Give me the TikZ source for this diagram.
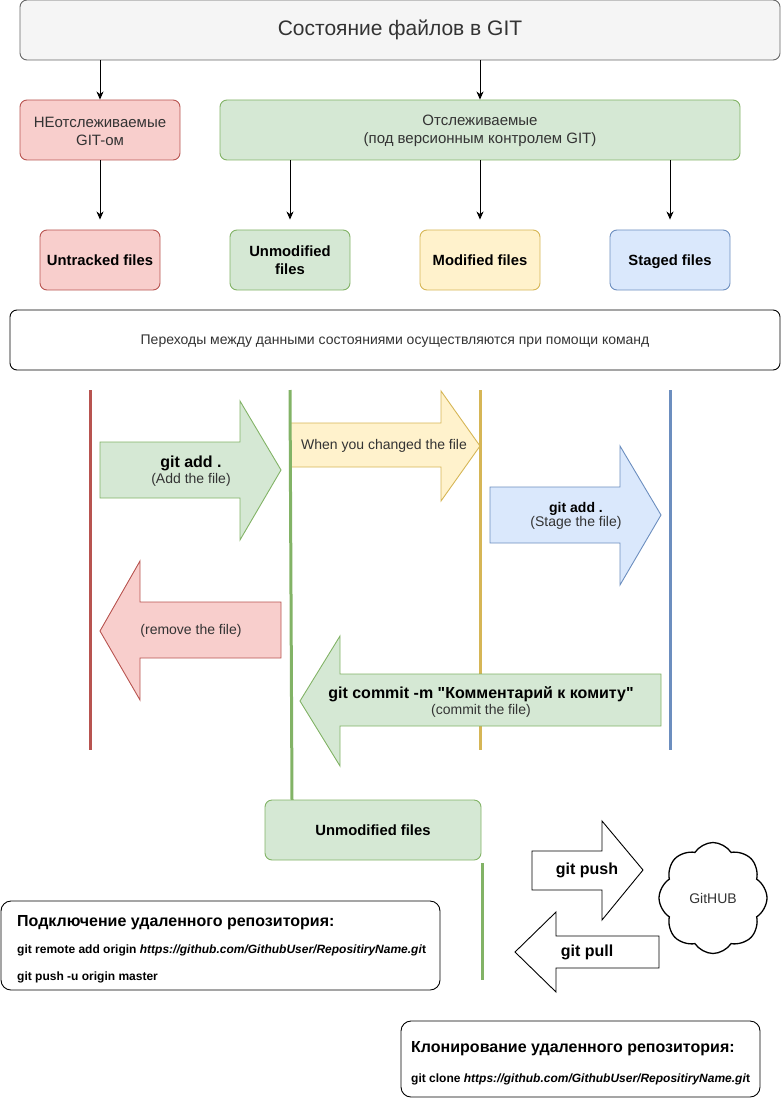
\documentclass[tikz,border=0pt]{standalone}
\usepackage{fontspec}
\setmainfont{Liberation Sans}
\usetikzlibrary{arrows.meta,calc,shapes.symbols}
\definecolor{txt}{HTML}{333333}
\definecolor{titlef}{HTML}{F5F5F5}
\definecolor{titled}{HTML}{666666}
\definecolor{redf}{HTML}{F8CECC}
\definecolor{redd}{HTML}{B85450}
\definecolor{greenf}{HTML}{D5E8D4}
\definecolor{greend}{HTML}{82B366}
\definecolor{yelf}{HTML}{FFF2CC}
\definecolor{yeld}{HTML}{D6B656}
\definecolor{bluef}{HTML}{DAE8FC}
\definecolor{blued}{HTML}{6C8EBF}
\newcommand{\fsz}[2]{\fontsize{#1}{#2}\selectfont}
\newcommand{\dq}{\XeTeXglyph\XeTeXcharglyph"22\relax}
\tikzset{
  rbox/.style={rounded corners=7pt, draw, line width=0.9pt, inner sep=0pt, align=center},
  statebox/.style={rbox, minimum width=120pt, minimum height=60pt, font=\fsz{14.8}{17.5}\bfseries},
  conn/.style={line width=0.9pt, -{Stealth[length=8pt,width=7pt,inset=2.5pt]}},
  vline/.style={line width=3pt},
  barrow/.style={line width=0.9pt, line join=miter},
  infobox/.style={rounded corners=10pt, draw=black, fill=white, line width=0.9pt},
}
\begin{document}
\begin{tikzpicture}[x=1pt,y=-1pt]
\useasboundingbox (0,0) rectangle (781,1099);

% top
\node[rbox, fill=titlef, draw=titled, minimum width=760pt, minimum height=60pt, text=txt, font=\fsz{21}{25}] (title) at (400,30) {Состояние файлов в GIT};
\node[rbox, fill=redf, draw=redd, minimum width=160pt, minimum height=60pt, text=txt, font=\fsz{15}{18}] (untrcat) at (100,130) {\vphantom{Ё}НЕотслеживаемые\\GIT-ом};
\node[rbox, fill=greenf, draw=greend, minimum width=520pt, minimum height=60pt, text=txt, font=\fsz{15}{18}] (trcat) at (480,130) {\vphantom{Ё}Отслеживаемые\\(под версионным контролем GIT)};

\node[statebox, fill=redf, draw=redd, text depth=0pt] (untr) at (100,260) {Untracked files};
\node[statebox, fill=greenf, draw=greend] (unmod) at (290,260) {Unmodified\\files};
\node[statebox, fill=yelf, draw=yeld, text depth=0pt] (modf) at (480,260) {Modified files};
\node[statebox, fill=bluef, draw=blued, text depth=0pt] (stag) at (670,260) {Staged files};

\draw[conn] (title.south -| untrcat.north) -- (untrcat.north);
\draw[conn] (title.south -| trcat.north) -- (trcat.north);
\draw[conn] (untrcat.south) -- ([yshift=10pt]untr.north);
\draw[conn] (trcat.south -| unmod.north) -- ([yshift=10pt]unmod.north);
\draw[conn] (trcat.south -| modf.north) -- ([yshift=10pt]modf.north);
\draw[conn] (trcat.south -| stag.north) -- ([yshift=10pt]stag.north);

\node[rbox, draw=black, fill=white, minimum width=770pt, minimum height=60pt, text=txt, font=\fsz{14}{16}, text depth=0pt] (info) at (395,340) {Переходы между данными состояниями осуществляются при помощи команд};

% block arrows
\draw[barrow, fill=greenf, draw=greend] (100,442) -- (240,442) -- (240,401) -- (281,470) -- (240,540) -- (240,498) -- (100,498) -- cycle;
\node[align=center, inner sep=0pt] (addlbl) at (191,471) {{\fsz{16}{18}\bfseries git add .}\\[1pt]{\fsz{14}{17}\color{txt}(Add the file)}};

\draw[barrow, fill=yelf, draw=yeld] (290,423) -- (441,423) -- (441,391) -- (480,446) -- (441,501) -- (441,467) -- (290,467) -- cycle;
\node[inner sep=0pt, text=txt, font=\fsz{14}{17}] (chglbl) at (384,446) {When you changed the file};

\draw[barrow, fill=bluef, draw=blued] (490,487) -- (620,487) -- (620,446) -- (661,515) -- (620,585) -- (620,543) -- (490,543) -- cycle;
\node[align=center, inner sep=0pt] (stglbl) at (576,516) {{\fsz{14}{16}\bfseries git add .}\\{\fsz{14}{17}\color{txt}(Stage the file)}};

\draw[barrow, fill=redf, draw=redd] (100,631) -- (140,561) -- (140,602) -- (281,602) -- (281,658) -- (140,658) -- (140,700) -- cycle;
\node[inner sep=0pt, text=txt, font=\fsz{14}{17}] (rmlbl) at (191,631) {(remove the file)};

% vertical lines
\coordinate (rt) at (90,390);  \coordinate (rb) at (90,750);
\coordinate (gt) at (290,390); \coordinate (gb) at (292,800);
\coordinate (yt) at (480,390); \coordinate (yb) at (480,750);
\coordinate (bt) at (670,390); \coordinate (bb) at (670,750);
\draw[vline, draw=redd] (rt) -- (rb);
\draw[vline, draw=greend] (gt) -- (gb);
\draw[vline, draw=yeld] (yt) -- (yb);
\draw[vline, draw=blued] (bt) -- (bb);

% commit arrow (drawn over the lines)
\draw[barrow, fill=greenf, draw=greend] (300,701) -- (340,636) -- (340,674) -- (661,674) -- (661,726) -- (340,726) -- (340,766) -- cycle;
\node[align=center, inner sep=0pt] (cmlbl) at (481,702) {{\fsz{16}{18}\bfseries git commit -m \dq Комментарий к комиту\dq}\\[2pt]{\fsz{14}{17}\color{txt}(commit the file)}};

% bottom
\node[rbox, fill=greenf, draw=greend, minimum width=216pt, minimum height=60pt, font=\fsz{14.8}{17.5}\bfseries, text depth=0pt] (unmod2) at (373,830) {Unmodified files};
\coordinate (g2t) at (482,863); \coordinate (g2b) at (482,980);
\draw[vline, draw=greend] (g2t) -- (g2b);

\draw[barrow, fill=white, draw=black] (532,851) -- (602,851) -- (602,821) -- (643,870) -- (602,920) -- (602,890) -- (532,890) -- cycle;
\node[inner sep=0pt, font=\fsz{16}{18}\bfseries] (pushlbl) at (587,870) {git push};
\draw[barrow, fill=white, draw=black] (515,952) -- (556,912) -- (556,936) -- (659,936) -- (659,968) -- (556,968) -- (556,992) -- cycle;
\node[inner sep=0pt, font=\fsz{16}{18}\bfseries] (pulllbl) at (587,952) {git pull};

% cloud
\node[cloud, draw=black, fill=white, line width=1.3pt, cloud puffs=8, cloud puff arc=115, aspect=1, minimum width=108pt, minimum height=111pt, inner sep=0pt, text=txt, font=\fsz{14}{16}] (gh) at (713,898) {GitHUB};

\draw[infobox] (1,901) rectangle (440,990);
\node[anchor=base west, inner sep=0pt, font=\fsz{16}{18}\bfseries] (conT) at (17,926) {Подключение удаленного репозитория:};
\node[anchor=base west, inner sep=0pt, font=\fsz{12}{14}\bfseries] (conA) at (17,953) {git remote add origin \textit{https://github.com/GithubUser/RepositiryName.gi}t};
\node[anchor=base west, inner sep=0pt, font=\fsz{12}{14}\bfseries] (conB) at (17,980) {git push -u origin master};

\draw[infobox] (401,1021) rectangle (760,1097);
\node[anchor=base west, inner sep=0pt, font=\fsz{16}{18}\bfseries] (clT) at (411,1052) {Клонирование удаленного репозитория:};
\node[anchor=base west, inner sep=0pt, font=\fsz{12}{14}\bfseries] (clA) at (411,1082) {git clone \textit{https://github.com/GithubUser/RepositiryName.gi}t};
\end{tikzpicture}
\end{document}
